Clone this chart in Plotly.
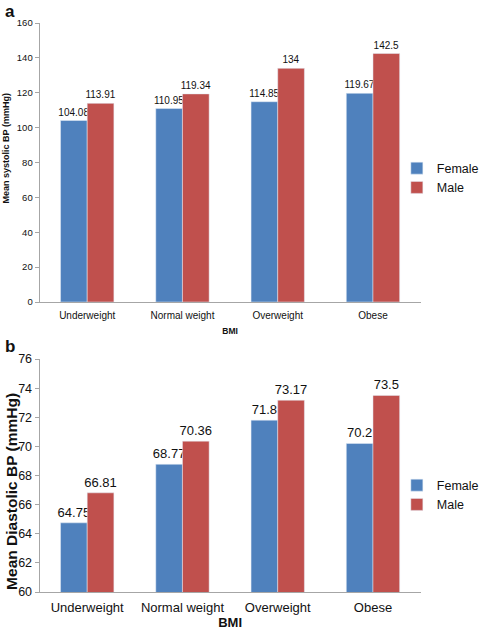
import plotly.graph_objects as go

categories = ["Underweight", "Normal weight", "Overweight", "Obese"]
systolic_female = [104.08, 110.95, 114.85, 119.67]
systolic_male = [113.91, 119.34, 134, 142.5]
diastolic_female = [64.75, 68.77, 71.8, 70.2]
diastolic_male = [66.81, 70.36, 73.17, 73.5]

BLUE = "#4F81BD"
RED = "#C0504D"
FONT = "Arial, Liberation Sans, Helvetica, sans-serif"
W, H = 484, 630

def px_x(x):
    return x / W

def px_y(y):
    return 1 - y / H

fig = go.Figure()

def bar(vals, name, color, size, xa, ya, leg):
    return go.Bar(x=categories, y=vals, name=name, marker_color=color,
                  text=vals, textposition="outside", cliponaxis=False,
                  constraintext="none",
                  textfont=dict(size=size, color="#111"), xaxis=xa, yaxis=ya,
                  legend=leg)

fig.add_trace(bar(systolic_female, "Female", BLUE, 10, "x", "y", "legend"))
fig.add_trace(bar(systolic_male, "Male", RED, 10, "x", "y", "legend"))
fig.add_trace(bar(diastolic_female, "Female", BLUE, 13, "x2", "y2", "legend2"))
fig.add_trace(bar(diastolic_male, "Male", RED, 13, "x2", "y2", "legend2"))

xdom = [px_x(40), px_x(425)]
axis_line = "#a6a6a6"

fig.update_layout(
    width=W, height=H,
    margin=dict(l=0, r=0, t=0, b=0),
    paper_bgcolor="white", plot_bgcolor="white",
    font=dict(family=FONT, color="#111"),
    barmode="group", bargap=0.44, bargroupgap=0,
    xaxis=dict(domain=xdom, anchor="y", showline=True, linecolor=axis_line, linewidth=1,
               ticks="", tickfont=dict(size=10), ticklabelstandoff=4,
               title=dict(text="<b>BMI</b>", font=dict(size=8.5), standoff=8),
               automargin=False),
    yaxis=dict(domain=[px_y(302), px_y(23)], anchor="x", range=[0, 160], dtick=20,
               showline=True, linecolor=axis_line, linewidth=1, showgrid=False,
               zeroline=False, ticks="outside", ticklen=4, tickcolor=axis_line,
               tickfont=dict(size=9.5), automargin=False),
    xaxis2=dict(domain=xdom, anchor="y2", showline=True, linecolor=axis_line, linewidth=1,
                ticks="", tickfont=dict(size=13), ticklabelstandoff=3,
                title=dict(text="<b>BMI</b>", font=dict(size=13), standoff=2),
                automargin=False),
    yaxis2=dict(domain=[px_y(592), px_y(359)], anchor="x2", range=[60, 76], dtick=2,
                showline=True, linecolor=axis_line, linewidth=1, showgrid=False,
                zeroline=False, ticks="outside", ticklen=4, tickcolor=axis_line,
                tickfont=dict(size=12.5), automargin=False),
    legend=dict(x=px_x(401), y=px_y(178), xanchor="left", yanchor="middle",
                font=dict(size=12.5), tracegroupgap=0, bgcolor="rgba(0,0,0,0)"),
    legend2=dict(x=px_x(401), y=px_y(495), xanchor="left", yanchor="middle",
                 font=dict(size=12.5), tracegroupgap=0, bgcolor="rgba(0,0,0,0)"),
    annotations=[
        dict(text="<b>a</b>", x=px_x(3), y=px_y(11), xref="paper", yref="paper",
             xanchor="left", yanchor="middle", showarrow=False, font=dict(size=17)),
        dict(text="<b>b</b>", x=px_x(3), y=px_y(346), xref="paper", yref="paper",
             xanchor="left", yanchor="middle", showarrow=False, font=dict(size=17)),
        dict(text="<b>Mean systolic BP (mmHg)</b>", x=px_x(6.5), y=px_y(148),
             xref="paper", yref="paper", xanchor="center", yanchor="middle",
             textangle=-90, showarrow=False, font=dict(size=9)),
        dict(text="<b>Mean Diastolic BP (mmHg)</b>", x=px_x(11), y=px_y(491),
             xref="paper", yref="paper", xanchor="center", yanchor="middle",
             textangle=-90, showarrow=False, font=dict(size=15.5)),
    ],
)

fig.write_html("out.html", config={"displayModeBar": False},
               post_script="document.body.style.margin='0';")
